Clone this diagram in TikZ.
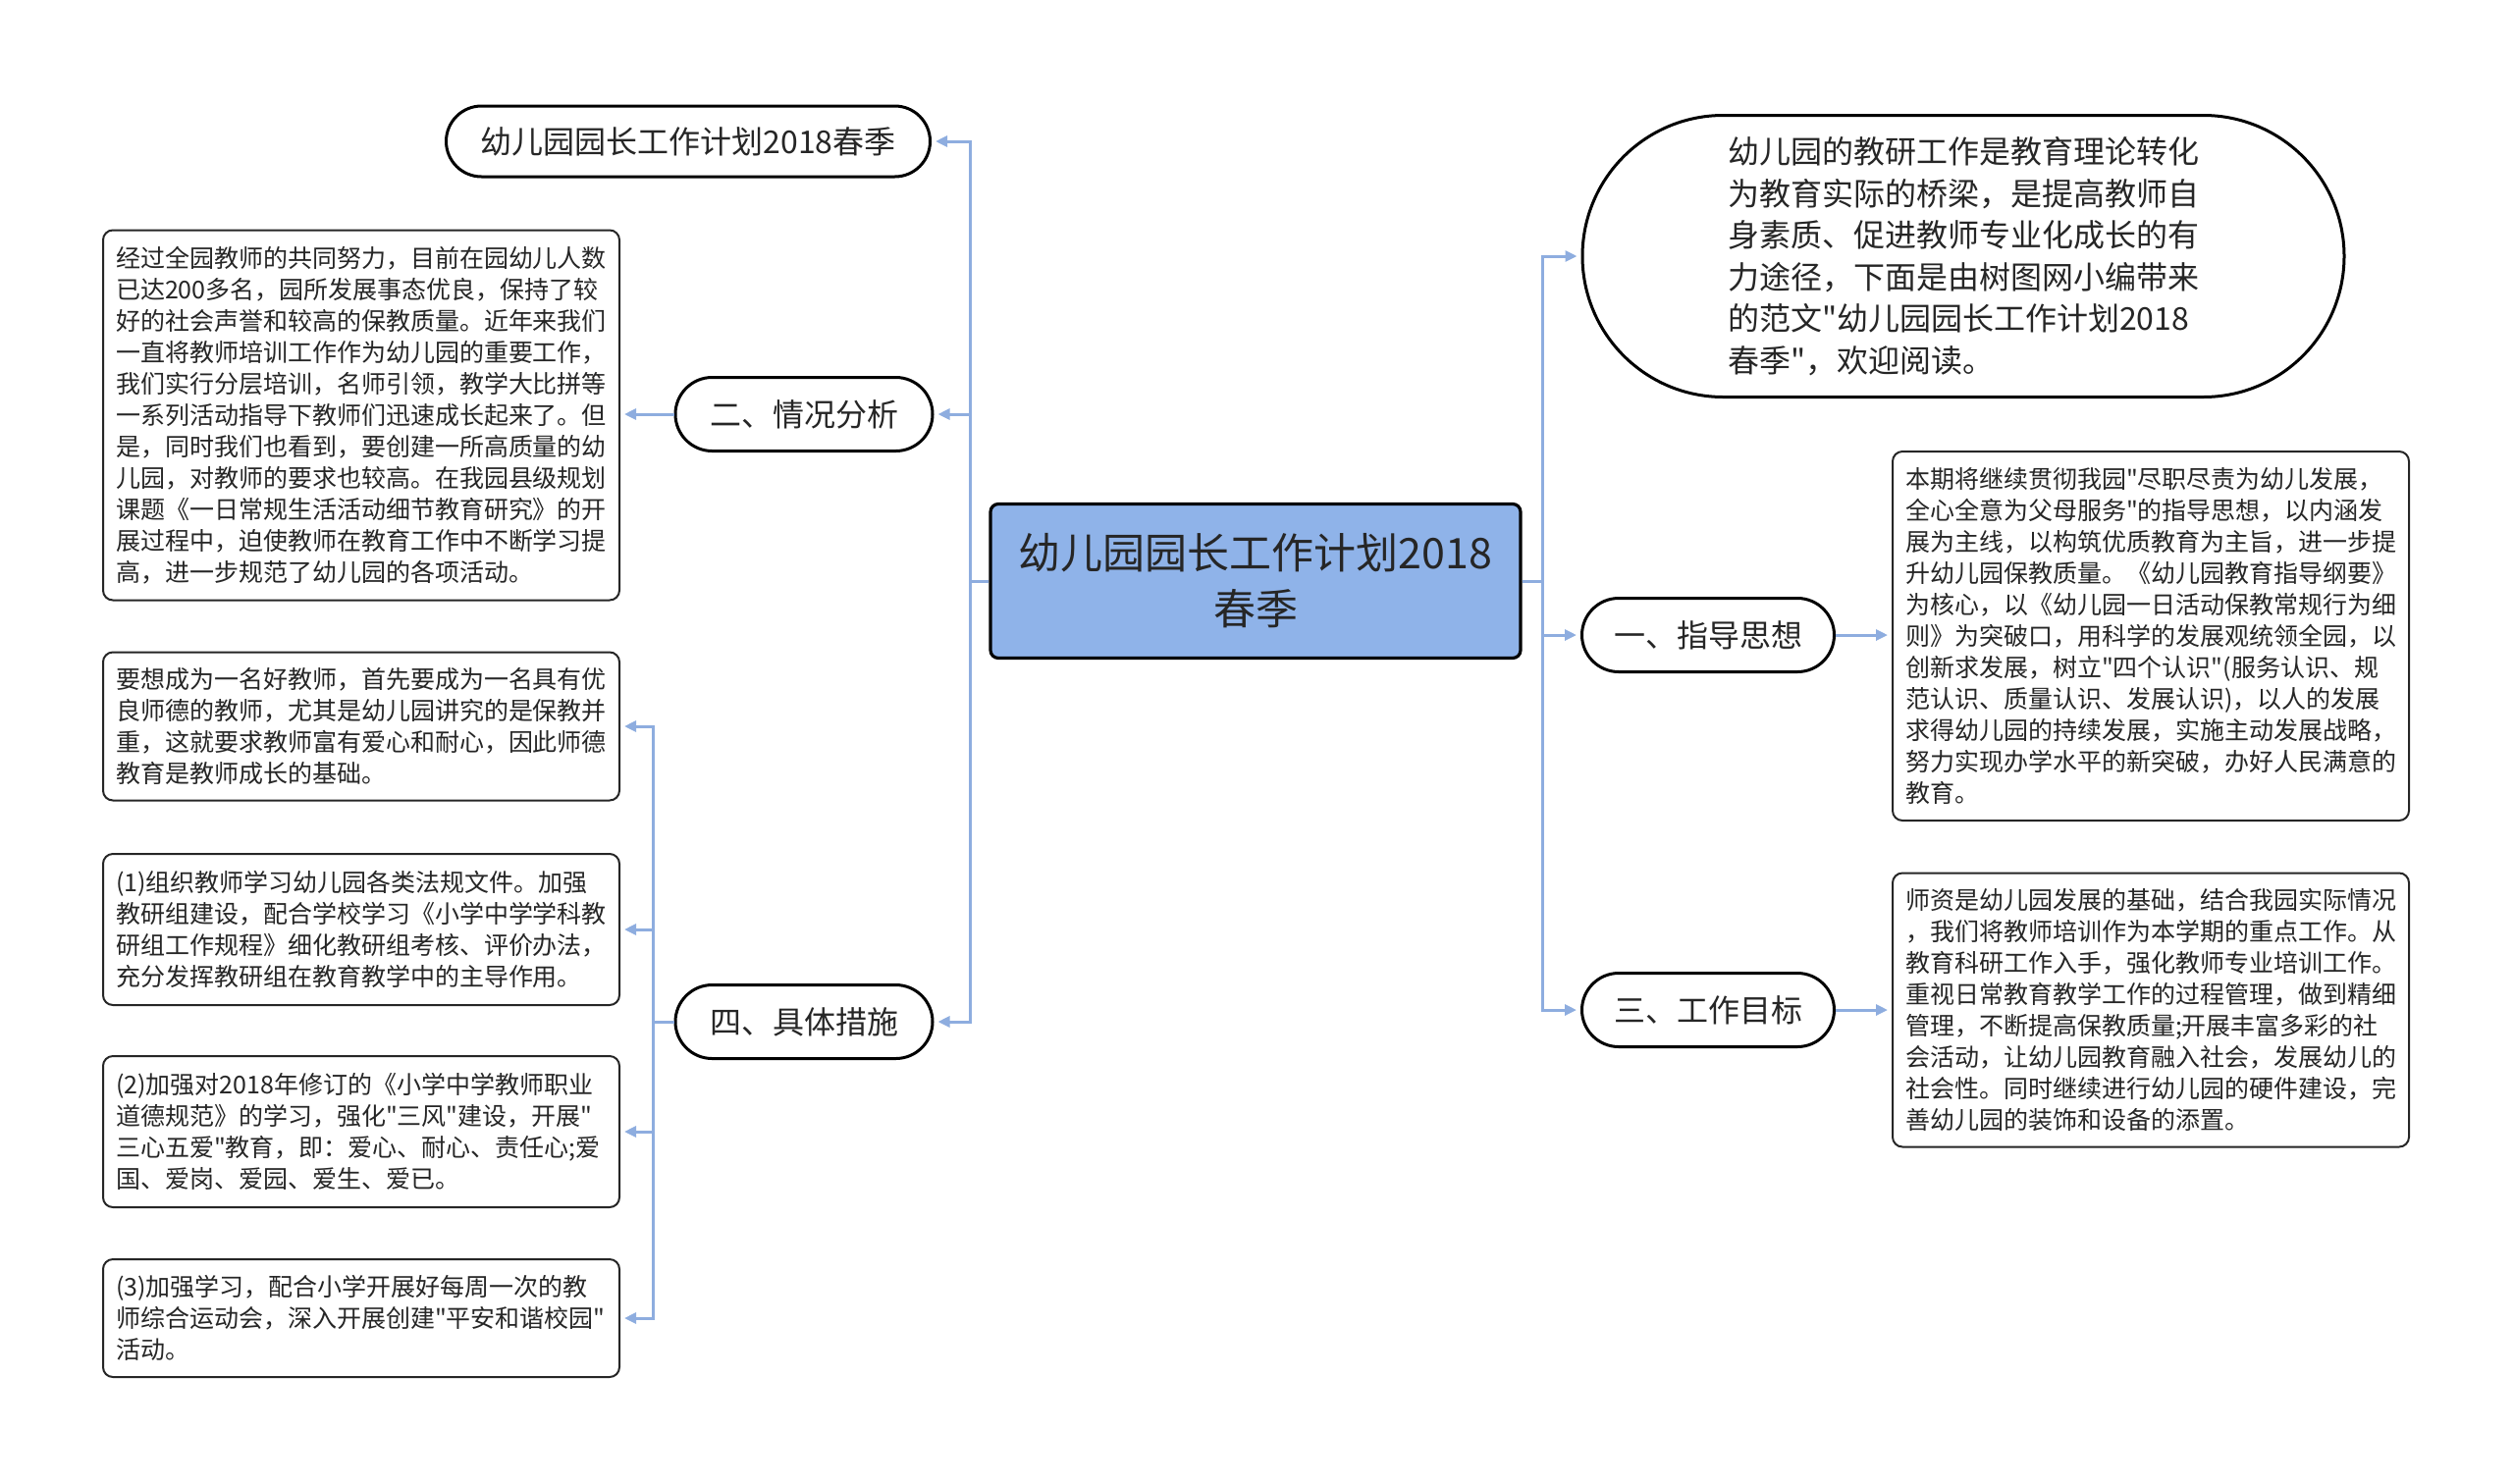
\documentclass[tikz,border=0pt]{standalone}
\usepackage{fontspec}
\setmainfont{Noto Sans CJK SC}
\newfontfamily\kgfont{Noto Sans CJK SC}
\usetikzlibrary{arrows.meta,shapes.misc}
\definecolor{kgroot}{HTML}{8FB3E9}
\definecolor{kglink}{HTML}{8EADDF}
\definecolor{kgink}{HTML}{262626}
\tikzset{
  root/.style={rectangle, rounded corners=4pt, draw=black, line width=1.6pt, fill=kgroot, text=kgink, align=center, font=\kgfont\fontsize{21.5pt}{28.5pt}\selectfont, minimum width=270pt, minimum height=78.5pt},
  pill/.style={rounded rectangle, draw=black, line width=1.5pt, fill=white, text=kgink, font=\kgfont\fontsize{16pt}{20pt}\selectfont, minimum height=37.5pt, inner sep=2pt},
  note/.style={rectangle, rounded corners=5pt, draw=black!85, line width=1pt, fill=white, text=kgink, text width=250pt, align=left, inner xsep=6.5pt, inner ysep=5pt, font=\kgfont\fontsize{12.5pt}{16pt}\selectfont},
  arr/.style={-{Triangle[length=6pt,width=5.5pt]}, line width=1.5pt, color=kglink, shorten >=2pt},
}
\begin{document}
\begin{tikzpicture}[x=0.5pt,y=-0.5pt]
  \useasboundingbox (0,0) rectangle (2560,1511);
  \node[root] (root) at (1279,592) {幼儿园园长工作计划2018\\春季};
  \node[pill, minimum width=250.5pt, minimum height=36pt] (title) at (701,144) {幼儿园园长工作计划2018春季};
  \node[pill, minimum width=135pt] (sit) at (819,422) {二、情况分析};
  \node[pill, minimum width=135pt] (meas) at (819,1041) {四、具体措施};
  \node[pill, minimum width=392pt, minimum height=143.5pt, align=left, font=\kgfont\fontsize{16pt}{21.25pt}\selectfont] (intro) at (2000,261) {幼儿园的教研工作是教育理论转化\\为教育实际的桥梁，是提高教师自\\身素质、促进教师专业化成长的有\\力途径，下面是由树图网小编带来\\的范文"幼儿园园长工作计划2018\\春季"，欢迎阅读。};
  \node[pill, minimum width=132.5pt] (guide) at (1740,647) {一、指导思想};
  \node[pill, minimum width=132.5pt] (goal) at (1740,1029) {三、工作目标};
  \node[note, minimum height=188.5pt] (sitnote) at (368,423) {经过全园教师的共同努力，目前在园幼儿人数\\已达200多名，园所发展事态优良，保持了较\\好的社会声誉和较高的保教质量。近年来我们\\一直将教师培训工作作为幼儿园的重要工作，\\我们实行分层培训，名师引领，教学大比拼等\\一系列活动指导下教师们迅速成长起来了。但\\是，同时我们也看到，要创建一所高质量的幼\\儿园，对教师的要求也较高。在我园县级规划\\课题《一日常规生活活动细节教育研究》的开\\展过程中，迫使教师在教育工作中不断学习提\\高，进一步规范了幼儿园的各项活动。};
  \node[note, minimum height=75.5pt] (meas1) at (368,740) {要想成为一名好教师，首先要成为一名具有优\\良师德的教师，尤其是幼儿园讲究的是保教并\\重，这就要求教师富有爱心和耐心，因此师德\\教育是教师成长的基础。};
  \node[note, minimum height=77pt] (meas2) at (368,947) {(1)组织教师学习幼儿园各类法规文件。加强\\教研组建设，配合学校学习《小学中学学科教\\研组工作规程》细化教研组考核、评价办法，\\充分发挥教研组在教育教学中的主导作用。};
  \node[note, minimum height=77pt] (meas3) at (368,1153) {(2)加强对2018年修订的《小学中学教师职业\\道德规范》的学习，强化"三风"建设，开展"\\三心五爱"教育，即：爱心、耐心、责任心;爱\\国、爱岗、爱园、爱生、爱已。};
  \node[note, minimum height=60pt] (meas4) at (368,1343) {(3)加强学习，配合小学开展好每周一次的教\\师综合运动会，深入开展创建"平安和谐校园"\\活动。};
  \node[note, minimum height=188pt] (guidenote) at (2191,648) {本期将继续贯彻我园"尽职尽责为幼儿发展，\\全心全意为父母服务"的指导思想，以内涵发\\展为主线，以构筑优质教育为主旨，进一步提\\升幼儿园保教质量。《幼儿园教育指导纲要》\\为核心，以《幼儿园一日活动保教常规行为细\\则》为突破口，用科学的发展观统领全园，以\\创新求发展，树立"四个认识"(服务认识、规\\范认识、质量认识、发展认识)，以人的发展\\求得幼儿园的持续发展，实施主动发展战略，\\努力实现办学水平的新突破，办好人民满意的\\教育。};
  \node[note, minimum height=139.5pt] (goalnote) at (2191,1029) {师资是幼儿园发展的基础，结合我园实际情况\\，我们将教师培训作为本学期的重点工作。从\\教育科研工作入手，强化教师专业培训工作。\\重视日常教育教学工作的过程管理，做到精细\\管理，不断提高保教质量;开展丰富多彩的社\\会活动，让幼儿园教育融入社会，发展幼儿的\\社会性。同时继续进行幼儿园的硬件建设，完\\善幼儿园的装饰和设备的添置。};
  \coordinate (ltrunk) at (988,592);
  \coordinate (rtrunk) at (1571,592);
  \coordinate (mtrunk) at (665,1041);
  \draw[arr] (root.west) -- (ltrunk) |- (title.east);
  \draw[arr] (root.west) -- (ltrunk) |- (sit.east);
  \draw[arr] (root.west) -- (ltrunk) |- (meas.east);
  \draw[arr] (root.east) -- (rtrunk) |- (intro.west);
  \draw[arr] (root.east) -- (rtrunk) |- (guide.west);
  \draw[arr] (root.east) -- (rtrunk) |- (goal.west);
  \draw[arr] (sit.west) -- (sitnote.east |- sit.west);
  \draw[arr] (meas.west) -- (mtrunk) |- (meas1.east);
  \draw[arr] (meas.west) -- (mtrunk) |- (meas2.east);
  \draw[arr] (meas.west) -- (mtrunk) |- (meas3.east);
  \draw[arr] (meas.west) -- (mtrunk) |- (meas4.east);
  \draw[arr] (guide.east) -- (guidenote.west |- guide.east);
  \draw[arr] (goal.east) -- (goalnote.west |- goal.east);
\end{tikzpicture}
\end{document}
